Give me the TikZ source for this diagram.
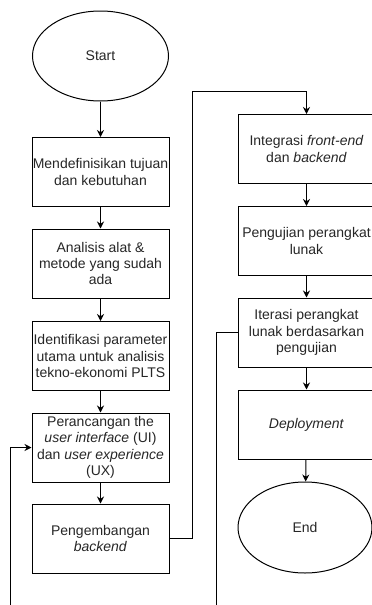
\documentclass[tikz,border=0pt]{standalone}
\usepackage{fontspec}
\setmainfont{Liberation Sans}
\usetikzlibrary{shapes.geometric,arrows.meta}
\begin{document}
\begin{tikzpicture}[x=1pt,y=-1pt,
		every node/.style={font=\fontsize{14}{16.4}\selectfont,text=black!85,align=center,inner sep=0pt},
		box/.style={draw,line width=1pt,minimum width=137pt,minimum height=69pt},
		term/.style={draw,ellipse,line width=1pt,minimum width=136pt,minimum height=90pt},
		flow/.style={line width=1pt,-{Stealth[length=7pt,width=7pt]}}]
			\useasboundingbox (0,0) rectangle (372,605);
			\clip (0,0) rectangle (372,605);
			
			\node[term] (start) at (100.5,56) {Start};
			\node[box] (tujuan) at (100.5,172) {Mendefinisikan tujuan\\dan kebutuhan};
			\node[box] (analisis) at (100.5,263.5) {Analisis alat \&\\metode yang sudah\\ada};
			\node[box] (param) at (100.5,356) {Identifikasi parameter\\utama untuk analisis\\tekno-ekonomi PLTS};
			\node[box] (desain) at (100.5,447.5) {Perancangan the\\\textit{user interface} (UI)\\dan \textit{user experience}\\(UX)};
			\node[box] (backend) at (100.5,538.5) {Pengembangan\\\textit{backend}};
			
			\node[box] (integrasi) at (306.5,149) {Integrasi \textit{front-end}\\dan \textit{backend}};
			\node[box] (uji) at (306.5,241) {Pengujian perangkat\\lunak};
			\node[box] (iterasi) at (306.5,332.5) {Iterasi perangkat\\lunak berdasarkan\\pengujian};
			\node[box] (deploy) at (306.5,424.5) {\textit{Deployment}};
			\node[term,minimum width=134pt,minimum height=91pt] (end) at (305,527.5) {End};
			
			\draw[flow] (start) -- (tujuan);
			\draw[flow] (tujuan) -- (analisis);
			\draw[flow] (analisis) -- (param);
			\draw[flow] (param) -- (desain);
			\draw[flow] (desain) -- (backend);
			
			\coordinate (naik) at (192,91);
			\draw[flow] (backend.east) -| (naik) -| (integrasi.north);
			
			\draw[flow] (integrasi) -- (uji);
			\draw[flow] (uji) -- (iterasi);
			\draw[flow] (iterasi) -- (deploy);
			\draw[flow] (deploy) -- (end);
			
			\coordinate (turun) at (216,625);
			\coordinate (balik) at (10,625);
			\draw[flow] (iterasi.west) -| (turun) -- (balik) |- (desain.west);
		\end{tikzpicture}
\end{document}
